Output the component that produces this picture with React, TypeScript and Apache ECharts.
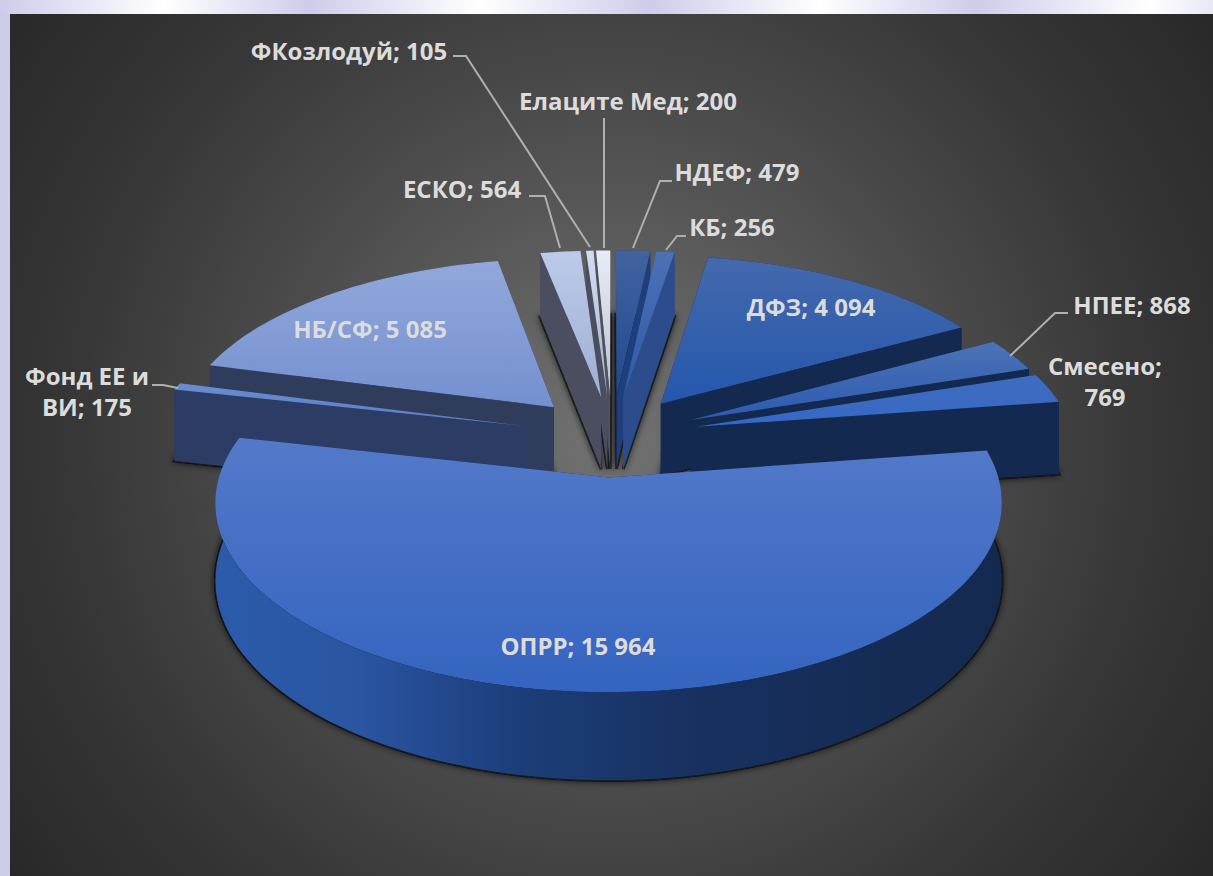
import React, { useEffect, useRef } from "react";
import * as echarts from "echarts";

// ---- data, clockwise from 12 o'clock ----
const categories = ["НДЕФ", "КБ", "ДФЗ", "НПЕЕ", "Смесено", "ОПРР", "Фонд ЕЕ и ВИ", "НБ/СФ", "ЕСКО", "ФКозлодуй", "Елаците Мед"];
const values = [479, 256, 4094, 868, 769, 15964, 175, 5085, 564, 105, 200];
const valueLabels = ["479", "256", "4 094", "868", "769", "15 964", "175", "5 085", "564", "105", "200"];

// ---- styles ----
const TOPS: string[][] = [
  ["#43629f", "#1f4a8e"],
  ["#4d71b6", "#2d5aa8"],
  ["#4469ad", "#2557ac"],
  ["#4d72b6", "#2b5bb0"],
  ["#3f6cc0", "#3668c4"],
  ["#5379c9", "#3464c0"],
  ["#6a8ccf", "#5a7fc6"],
  ["#92a8db", "#7490d0"],
  ["#bccbea", "#a0aed2"],
  ["#d4ddf0", "#a8b0c8"],
  ["#e8ecf5", "#bcc2d2"],
];
const WALLS = ["#1d3f7c", "#2c4c8c", "#14294f", "#14294f", "#14294f", "#14294f", "#2d3c64", "#2f3c5c", "#4a4e60", "#4a4e5e", "#4e525e"];
const TEXT = "#dcdcdc";
const FONT = "'Open Sans'";

// ---- camera ----
const CX = 612, CY = 436, BX = 378, AY = 175, PERSP = 0.13, EXPLODE = 0.23, HEIGHT = 74;
const project = (X: number, Y: number, z: number) => {
  const w = 1 / (1 - PERSP * Y);
  return [CX + BX * X * w, CY + AY * Y * w + z * HEIGHT * w];
};

// ---- label placement ----
type Lab = { x: number; y: number; lines?: string[]; leader?: number[][] };
const LABELS: Lab[] = [
  { x: 737, y: 171, leader: [[672, 181], [660, 181], [633, 248]] },
  { x: 732, y: 226, leader: [[686, 236], [677, 236], [666, 250]] },
  { x: 811, y: 306 },
  { x: 1132, y: 304, leader: [[1068, 313], [1055, 313], [1010, 356]] },
  { x: 1105, y: 381, lines: ["Смесено;", "769"] },
  { x: 578, y: 645 },
  { x: 87, y: 391, lines: ["Фонд ЕЕ и", "ВИ; 175"], leader: [[152, 385], [163, 385], [178, 388]] },
  { x: 370, y: 328 },
  { x: 462, y: 188, leader: [[529, 196], [545, 196], [560, 248]] },
  { x: 349, y: 50, leader: [[453, 56], [466, 56], [590, 247]] },
  { x: 628, y: 100, leader: [[604, 118], [604, 248]] },
];

const TOTAL = values.reduce((a, b) => a + b, 0);
const starts: number[] = [];
values.reduce((acc, v, i) => { starts[i] = acc; return acc + v; }, 0);
const bisectorY = values.map((v, i) => -Math.cos(((starts[i] + v / 2) / TOTAL) * 2 * Math.PI));
const depthRank = values.map((_, i) => [...bisectorY].sort((a, b) => a - b).indexOf(bisectorY[i]));

const renderItem = (params: any, api: any) => {
  const i = params.dataIndex;
  const v = api.value(0);
  const a0 = (starts[i] / TOTAL) * 2 * Math.PI;
  const a1 = ((starts[i] + v) / TOTAL) * 2 * Math.PI;
  const mid = (a0 + a1) / 2;
  const ox = EXPLODE * Math.sin(mid);
  const oy = -EXPLODE * Math.cos(mid);
  const n = Math.max(2, Math.ceil((a1 - a0) / 0.03));
  const arc = (z: number) => {
    const pts: number[][] = [];
    for (let k = 0; k <= n; k++) {
      const a = a0 + ((a1 - a0) * k) / n;
      pts.push(project(ox + Math.sin(a), oy - Math.cos(a), z));
    }
    return pts;
  };
  const apexT = project(ox, oy, 0);
  const apexB = project(ox, oy, 1);
  const top = arc(0);
  const bot = arc(1);
  const base = 10 + depthRank[i] * 10;
  const isMain = v === Math.max(...values);
  const wallFill = isMain
    ? new echarts.graphic.LinearGradient(0, 0, 1, 0, [
        { offset: 0, color: "#2c5bab" },
        { offset: 0.18, color: "#2a55a2" },
        { offset: 0.38, color: "#1c3e7a" },
        { offset: 0.62, color: "#17305e" },
        { offset: 1, color: "#14294f" },
      ])
    : WALLS[i];
  const children: any[] = [
    {
      type: "polygon",
      z2: 1,
      shape: { points: [apexB, ...bot] },
      style: { fill: "#000", stroke: "rgba(10,10,10,0.7)", lineWidth: 3, shadowBlur: 7, shadowColor: "rgba(0,0,0,0.85)" },
    },
    { type: "polygon", z2: base + 1, shape: { points: [apexT, top[0], bot[0], apexB] }, style: { fill: WALLS[i] } },
    { type: "polygon", z2: base + 1, shape: { points: [apexT, top[n], bot[n], apexB] }, style: { fill: WALLS[i] } },
    { type: "polygon", z2: base + 2, shape: { points: [...top, ...[...bot].reverse()] }, style: { fill: wallFill } },
    {
      type: "polygon",
      z2: base + 3,
      shape: { points: [apexT, ...top] },
      style: {
        fill: new echarts.graphic.LinearGradient(0, 0, 0, 1, [
          { offset: 0, color: TOPS[i][0] },
          { offset: 1, color: TOPS[i][1] },
        ]),
      },
    },
  ];
  const lab = LABELS[i];
  const text = lab.lines ? lab.lines.join("\n") : `${categories[i]}; ${valueLabels[i]}`;
  children.push({
    type: "text",
    z2: 500,
    style: {
      text,
      x: lab.x,
      y: lab.y,
      fill: TEXT,
      fontFamily: FONT,
      fontWeight: "bold",
      fontSize: 24,
      lineHeight: 31,
      textAlign: "center",
      textVerticalAlign: "middle",
    },
  });
  if (lab.leader) {
    children.push({
      type: "polyline",
      z2: 400,
      shape: { points: lab.leader },
      style: { fill: "none", stroke: "#b0b0b0", lineWidth: 2 },
    });
  }
  return { type: "group", children };
};

export default function App() {
  const ref = useRef<HTMLDivElement>(null);
  useEffect(() => {
    document.body.style.margin = "0";
    const chart = echarts.init(ref.current!, undefined, { renderer: "svg" });
    chart.setOption({
      animation: false,
      backgroundColor: "#cdcdeb",
      graphic: [
        {
          type: "rect",
          z: -2,
          shape: { x: 0, y: 0, width: 1213, height: 14 },
          style: {
            fill: new echarts.graphic.LinearGradient(0, 0, 1, 0, [
              { offset: 0, color: "#cdcdeb" },
              { offset: 0.136, color: "#ffffff" },
              { offset: 0.255, color: "#cdcdeb" },
              { offset: 0.396, color: "#ffffff" },
              { offset: 0.536, color: "#cdcdeb" },
              { offset: 0.676, color: "#ffffff" },
              { offset: 0.804, color: "#cdcdeb" },
              { offset: 0.948, color: "#ffffff" },
              { offset: 1, color: "#e8e8f6" },
            ]),
          },
        },
        {
          type: "rect",
          z: -1,
          shape: { x: 10, y: 14, width: 1203, height: 862 },
          style: {
            fill: new echarts.graphic.RadialGradient(610, 440, 780, [
              { offset: 0, color: "#727272" },
              { offset: 0.45, color: "#4a4a4a" },
              { offset: 0.7, color: "#363636" },
              { offset: 1, color: "#262626" },
            ], true),
          },
        },
      ],
      series: [
        {
          type: "custom",
          coordinateSystem: "none",
          silent: true,
          clip: false,
          renderItem,
          data: categories.map((name, i) => ({ name, value: [values[i]] })),
        },
      ],
    });
    return () => chart.dispose();
  }, []);
  return <div ref={ref} style={{ position: "absolute", left: 0, top: 0, width: 1213, height: 876 }} />;
}
